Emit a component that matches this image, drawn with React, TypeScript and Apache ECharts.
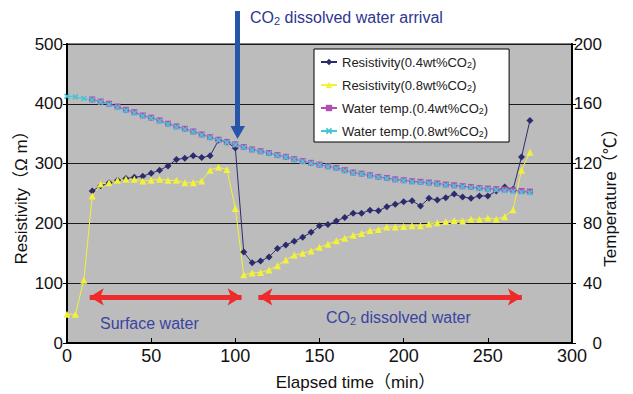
import React, { useEffect, useRef } from "react";
import * as echarts from "echarts";

const FONT = '"Liberation Sans", Arial, Helvetica, "Noto Sans CJK JP", sans-serif';

const timeAll = [0, 5, 10, 15, 20, 25, 30, 35, 40, 45, 50, 55, 60, 65, 70, 75, 80, 85, 90, 95, 100, 105, 110, 115, 120, 125, 130, 135, 140, 145, 150, 155, 160, 165, 170, 175, 180, 185, 190, 195, 200, 205, 210, 215, 220, 225, 230, 235, 240, 245, 250, 255, 260, 265, 270, 275];
const timeFrom15 = [15, 20, 25, 30, 35, 40, 45, 50, 55, 60, 65, 70, 75, 80, 85, 90, 95, 100, 105, 110, 115, 120, 125, 130, 135, 140, 145, 150, 155, 160, 165, 170, 175, 180, 185, 190, 195, 200, 205, 210, 215, 220, 225, 230, 235, 240, 245, 250, 255, 260, 265, 270, 275];

const resist04 = [254, 263, 268, 272, 275, 277, 279, 284, 289, 296, 307, 309, 313, 310, 313, 339, 336, 326, 152, 134, 137, 144, 158, 164, 170, 177, 185, 196, 198, 204, 210, 217, 217, 222, 221, 228, 232, 236, 238, 229, 242, 239, 243, 249, 244, 242, 246, 246, 254, 261, 257, 311, 372];
const resist08 = [48, 48, 105, 246, 266, 268, 272, 274, 274, 271, 272, 274, 272, 272, 268, 268, 271, 289, 294, 290, 225, 114, 117, 118, 122, 129, 139, 147, 150, 154, 160, 165, 171, 175, 180, 183, 188, 190, 194, 194, 195, 196, 196, 199, 201, 203, 205, 204, 207, 207, 209, 207, 211, 223, 289, 319];
const temp04 = [162.9, 161.5, 160, 158.2, 156, 154.4, 152.2, 150.7, 148.9, 146.7, 144.9, 143.3, 141.5, 139.5, 137.7, 136, 134.4, 132.9, 131.1, 129.5, 128.3, 127.1, 125.7, 124.5, 123, 121.7, 120.5, 119.3, 118.2, 117.1, 115.6, 114, 113.3, 112.2, 111.1, 110.4, 109.5, 108.9, 108.2, 107.8, 107.3, 106.7, 106, 105.5, 104.9, 104.4, 103.7, 103.3, 102.9, 102.7, 102.2, 101.7, 101.3];
const temp08 = [165, 164.5, 163.6, 162.6, 161.2, 159.5, 157.6, 155.6, 153.9, 151.8, 150.3, 148.5, 146.3, 144.5, 142.9, 141.1, 139.2, 137.4, 135.7, 134.1, 132.6, 130.8, 129.2, 128, 126.8, 125.4, 124.2, 122.7, 121.4, 120.2, 119, 117.9, 116.8, 115.3, 113.7, 113, 111.9, 110.8, 110, 109.1, 108.5, 107.8, 107.3, 106.9, 106.3, 105.6, 105.1, 104.5, 104, 103.3, 102.8, 102.4, 101.9, 101.4, 100.9, 100.5];

const seriesNames = [
  "Resistivity(0.4wt%CO2)",
  "Resistivity(0.8wt%CO2)",
  "Water temp.(0.4wt%CO2)",
  "Water temp.(0.8wt%CO2)",
];

// annotation arrows in data coordinates [time, resistivity]
const surfaceArrow = [[13.5, 77], [103.7, 77]];
const co2Arrow = [[113.7, 77], [270.2, 77]];

const xTicks = { min: 0, max: 300, interval: 50 };
const yLeftTicks = { min: 0, max: 500, interval: 100 };
const yRightTicks = { min: 0, max: 200, interval: 40 };

const zip = (xs: number[], ys: number[]) => xs.map((x, i) => [x, ys[i]]);

const subRich = (size: number) => ({
  s: { fontSize: size, fontFamily: FONT, verticalAlign: "bottom", lineHeight: size, padding: [4, 0, 0, 0] },
});

export default function App() {
  const ref = useRef<HTMLDivElement>(null);
  useEffect(() => {
    if (!ref.current) return;
    const chart = echarts.init(ref.current, undefined, { renderer: "svg" });
    const navy = "#2c2c6c";
    const yellow = "#f2f23a";
    const magenta = "#b04fb0";
    const cyan = "#48c4d6";
    const annot = "#3a44a0";
    chart.setOption({
      animation: false,
      textStyle: { fontFamily: FONT },
      grid: {
        left: 67,
        right: 61,
        top: 44,
        bottom: 51,
        outerBoundsMode: "none",
        containLabel: false,
        show: true,
        backgroundColor: "#bcbcbc",
        borderColor: "#808080",
        borderWidth: 2,
      },
      legend: {
        orient: "vertical",
        left: 314,
        top: 49,
        backgroundColor: "#ffffff",
        borderColor: "#000000",
        borderWidth: 1,
        padding: [5, 21, 3, 6],
        itemGap: 7,
        itemWidth: 16,
        itemHeight: 8,
        textStyle: { fontSize: 13, color: "#222", fontFamily: FONT, lineHeight: 16, rich: subRich(9) },
        formatter: (n: string) => n.replace("CO2", "CO{s|2}"),
        data: seriesNames,
      },
      xAxis: {
        type: "value",
        ...xTicks,
        name: "Elapsed time（min）",
        nameLocation: "middle",
        nameGap: 31,
        nameMoveOverlap: false,
        nameTextStyle: { fontSize: 17, color: "#111", padding: [0, 0, 0, 72] },
        axisLine: { show: true, lineStyle: { color: "#000", width: 2 } },
        axisTick: { show: true, inside: true, length: 5, lineStyle: { color: "#000", width: 1 } },
        axisLabel: { fontSize: 18, color: "#111", margin: 4 },
        splitLine: { show: false },
      },
      yAxis: [
        {
          type: "value",
          ...yLeftTicks,
          name: "Resistivity（Ω m）",
          nameLocation: "middle",
          nameGap: 37,
          nameMoveOverlap: false,
          nameTextStyle: { fontSize: 17, color: "#111" },
          axisLine: { show: true, lineStyle: { color: "#000", width: 2 } },
          axisTick: { show: true, length: 4, lineStyle: { color: "#000" } },
          axisLabel: { fontSize: 17, color: "#111", margin: 4 },
          splitLine: { show: true, lineStyle: { color: "#1a1a1a", width: 1 } },
        },
        {
          type: "value",
          ...yRightTicks,
          position: "right",
          name: "Temperature（℃）",
          nameLocation: "middle",
          nameGap: 30,
          nameMoveOverlap: false,
          nameTextStyle: { fontSize: 17, color: "#111" },
          axisLine: { show: true, lineStyle: { color: "#000", width: 2 } },
          axisTick: { show: true, length: 4, lineStyle: { color: "#000" } },
          axisLabel: { fontSize: 17, color: "#111", margin: 30, align: "right" },
          splitLine: { show: false },
        },
      ],
      series: [
        {
          name: seriesNames[0],
          type: "line",
          yAxisIndex: 0,
          data: zip(timeFrom15, resist04),
          symbol: "diamond",
          symbolSize: 7,
          showAllSymbol: true,
          lineStyle: { color: navy, width: 1 },
          itemStyle: { color: navy },
          emphasis: { disabled: true },
        },
        {
          name: seriesNames[1],
          type: "line",
          yAxisIndex: 0,
          data: zip(timeAll, resist08),
          symbol: "triangle",
          symbolSize: 7,
          showAllSymbol: true,
          lineStyle: { color: yellow, width: 1 },
          itemStyle: { color: yellow },
          emphasis: { disabled: true },
          markLine: {
            silent: true,
            symbol: ["arrow", "arrow"],
            symbolSize: [13, 14],
            label: { show: false },
            lineStyle: { color: "#ee2a2a", width: 5, type: "solid" },
            data: [
              [{ coord: surfaceArrow[0] }, { coord: surfaceArrow[1] }],
              [{ coord: co2Arrow[0] }, { coord: co2Arrow[1] }],
            ],
          },
        },
        {
          name: seriesNames[2],
          type: "line",
          yAxisIndex: 1,
          data: zip(timeFrom15, temp04),
          symbol: "rect",
          symbolSize: 6,
          showAllSymbol: true,
          lineStyle: { color: magenta, width: 1 },
          itemStyle: { color: magenta },
          emphasis: { disabled: true },
        },
        {
          name: seriesNames[3],
          type: "line",
          yAxisIndex: 1,
          data: zip(timeAll, temp08),
          symbol: "path://M2,0L5,3L8,0L10,2L7,5L10,8L8,10L5,7L2,10L0,8L3,5L0,2Z",
          symbolSize: 6,
          showAllSymbol: true,
          lineStyle: { color: cyan, width: 1 },
          itemStyle: { color: cyan },
          emphasis: { disabled: true },
        },
      ],
      graphic: [
        {
          type: "rect",
          shape: { x: 235, y: 11, width: 5, height: 117 },
          style: { fill: "#2556a8" },
          z: 100,
        },
        {
          type: "polygon",
          shape: { points: [[230.5, 126], [245, 126], [237.5, 139]] },
          style: { fill: "#2556a8" },
          z: 100,
        },
        {
          type: "text",
          x: 250,
          y: 17,
          style: {
            text: "CO{s|2} dissolved water arrival",
            fontSize: 16,
            lineHeight: 18,
            fontFamily: FONT,
            fill: "#2e3592",
            verticalAlign: "middle",
            rich: subRich(11),
          },
          z: 100,
        },
        {
          type: "text",
          x: 100,
          y: 323,
          style: {
            text: "Surface water",
            fontSize: 16,
            lineHeight: 18,
            fontFamily: FONT,
            fill: annot,
            verticalAlign: "middle",
          },
          z: 100,
        },
        {
          type: "text",
          x: 326,
          y: 317,
          style: {
            text: "CO{s|2} dissolved water",
            fontSize: 16,
            lineHeight: 18,
            fontFamily: FONT,
            fill: annot,
            verticalAlign: "middle",
            rich: subRich(11),
          },
          z: 100,
        },
      ],
    });
    return () => chart.dispose();
  }, []);
  return (
    <div
      ref={ref}
      style={{ position: "absolute", left: 0, top: 0, width: 633, height: 394 }}
    />
  );
}
